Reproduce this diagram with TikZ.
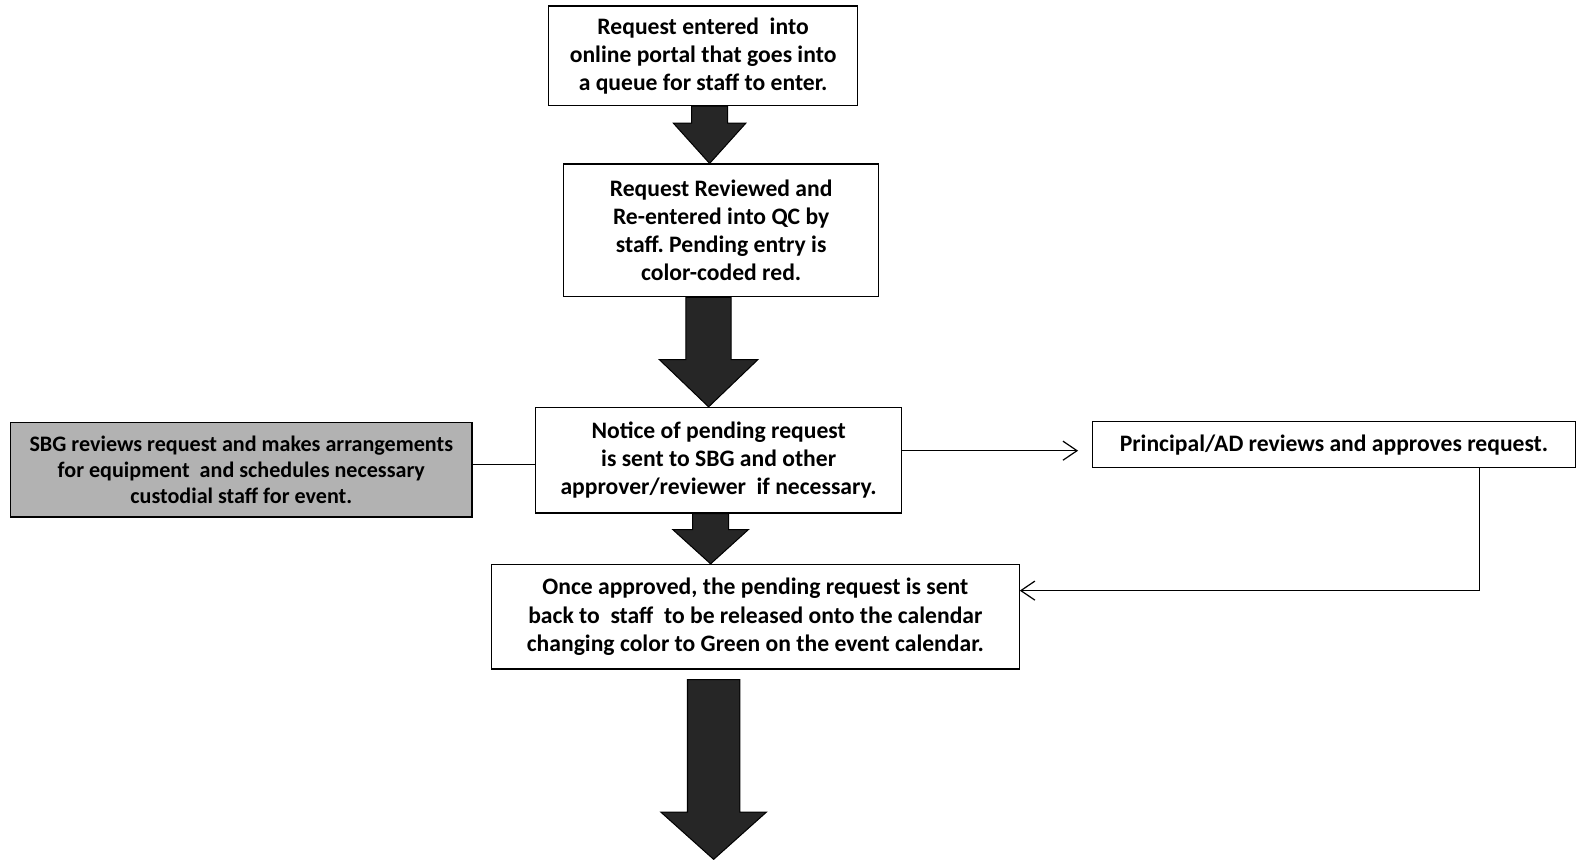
\documentclass[tikz,border=0pt]{standalone}
\usepackage{fontspec}
\setmainfont{Carlito}
\frenchspacing
\usetikzlibrary{arrows.meta, positioning, calc}

\begin{document}
\begin{tikzpicture}[
    x=1pt, y=-1pt,
    stepbox/.style={rectangle, draw, line width=1.2pt, fill=white, align=center, inner sep=0pt,
        font=\bfseries\fontsize{23.5}{28}\selectfont},
    sbgbox/.style={stepbox, fill=black!30, line width=1.6pt, font=\bfseries\fontsize{22}{26}\selectfont},
    link/.style={line width=1.2pt},
    flow/.style={line width=1.2pt, -{Straight Barb[length=14pt, width=19pt, line width=1.2pt]}},
    bigarrow/.style n args={3}{draw=black, line width=1pt, fill=black!85, to path={
        let \p1=(\tikztostart), \p2=(\tikztotarget) in
        (\x1-#1/2,\y1) -- (\x1-#1/2,\y2+#3) -- (\x1-#2/2,\y2+#3) -- (\x2,\y2)
        -- (\x1+#2/2,\y2+#3) -- (\x1+#1/2,\y2+#3) -- (\x1+#1/2,\y1) -- cycle}}
]
\useasboundingbox (0,0) rectangle (1568,855);

% Main column
\node[stepbox, minimum width=307pt, minimum height=99pt] (req) at (699.5,55.5)
    {Request entered\ \ into\\ online portal that goes into\\ a queue for staff to enter.};
\node[stepbox, minimum width=313pt, minimum height=132pt, below=57pt of req, xshift=18pt] (rev)
    {Request Reviewed and\\ Re-entered into QC by\\ staff. Pending entry is\\ color-coded red.};
\node[stepbox, minimum width=364pt, minimum height=105pt, below=109pt of rev, xshift=-2.5pt] (notice)
    {Notice of pending request\\ is sent to SBG and other\\ approver/reviewer\ \ if necessary.};
\node[stepbox, minimum width=525pt, minimum height=104pt, below=50pt of notice, xshift=36.5pt] (once)
    {Once approved, the pending request is sent\\ back to\ \ staff\ \ to be released onto the calendar\\ changing color to Green on the event calendar.};

% Side boxes
\node[sbgbox, minimum width=459pt, minimum height=94pt, left=62pt of notice, yshift=-9.5pt] (sbg)
    {SBG reviews request and makes arrangements\\ for equipment\ \ and schedules necessary\\ custodial staff for event.};
\node[stepbox, minimum width=480pt, minimum height=46pt, right=189pt of notice, yshift=15.5pt] (principal)
    {Principal/AD reviews and approves request.};

\coordinate (finish) at (710,855);

% Block arrows
\draw[bigarrow={36}{72}{40}] ($(req.south)+(6.5,0)$) to ($(rev.north)+(-11.5,0)$);
\draw[bigarrow={45}{98}{47}] ($(rev.south)+(-12.5,0)$) to ($(notice.north)+(-10,0)$);
\draw[bigarrow={36}{75}{34}] ($(notice.south)+(-8,0)$) to ($(once.north)+(-44.5,0)$);
\draw[bigarrow={52}{105}{47}] ($(once.south)+(-41.5,10)$) to (finish);

% Side connectors
\coordinate (sbgout) at ($(sbg.east)+(0,-5)$);
\draw[link] (sbgout) -- (sbgout -| notice.west);
\coordinate (noticeout) at ($(notice.east)+(0,-9.5)$);
\draw[flow, shorten >=14pt] (noticeout) -- (noticeout -| principal.west);
\draw[flow] ($(principal.south)+(145,0)$) |- ($(once.east)+(0,-26)$);

\end{tikzpicture}
\end{document}
